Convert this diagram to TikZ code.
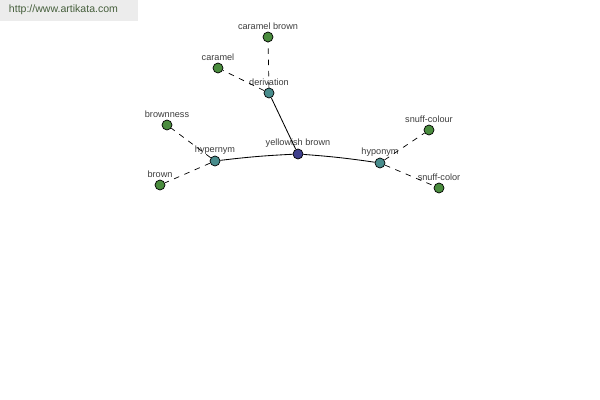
\documentclass[tikz,border=0pt]{standalone}
\usepackage{fontspec}
\setmainfont{Liberation Sans}
\definecolor{ArtiGreen}{RGB}{74,140,62}
\definecolor{ArtiTeal}{RGB}{72,140,140}
\definecolor{ArtiBlue}{RGB}{62,62,140}
\definecolor{ArtiGrey}{RGB}{236,236,236}
\definecolor{ArtiText}{RGB}{70,95,60}
\definecolor{LabelGrey}{RGB}{60,60,60}

\begin{document}
\begin{tikzpicture}[x=0.025cm, y=-0.025cm,
    word/.style={draw, circle, inner sep=0pt, minimum size=0.25cm, line width=0.5pt,
      label={[font=\fontsize{6.5}{7}\selectfont, text=LabelGrey, inner sep=1pt]above:#1}},
    leaf/.style={word=#1, fill=ArtiGreen},
    rel/.style={word=#1, fill=ArtiTeal},
    root/.style={word=#1, fill=ArtiBlue},
    link/.style={line width=0.6pt},
    weak/.style={line width=0.5pt, dashed, dash pattern=on 4pt off 4pt}]
                \useasboundingbox (0,0) rectangle (600,400);
                % site banner
                \fill[ArtiGrey] (0,0) rectangle (138,21);
                \node[font=\fontsize{7.5}{8}\selectfont, text=ArtiText, anchor=west] (site) at (4,10) {http://www.artikata.com};
                % the centre word and its relations
                \node[root=yellowish brown] (yb) at (298,154) {};
                \node[rel=derivation] (der) at (269,93) {};
                \node[rel=hypernym] (hyper) at (215,161) {};
                \node[rel=hyponym] (hypo) at (380,163) {};
                % words for each relation
                \node[leaf=caramel brown] (cb) at (268,37) {};
                \node[leaf=caramel] (car) at (218,68) {};
                \node[leaf=brownness] (bness) at (167,125) {};
                \node[leaf=brown] (br) at (160,185) {};
                \node[leaf=snuff-colour] (sc1) at (429,130) {};
                \node[leaf=snuff-color] (sc2) at (439,188) {};
                % solid links from the centre
                \draw[link] (yb) -- (der);
                \draw[link] (yb) to[bend right=2] (hyper);
                \draw[link] (yb) to[bend left=2] (hypo);
                % dashed links to the words
                \draw[weak] (der) -- (cb);
                \draw[weak] (der) -- (car);
                \draw[weak] (hyper) -- (bness);
                \draw[weak] (hyper) -- (br);
                \draw[weak] (hypo) -- (sc1);
                \draw[weak] (hypo) -- (sc2);
            \end{tikzpicture}
\end{document}
